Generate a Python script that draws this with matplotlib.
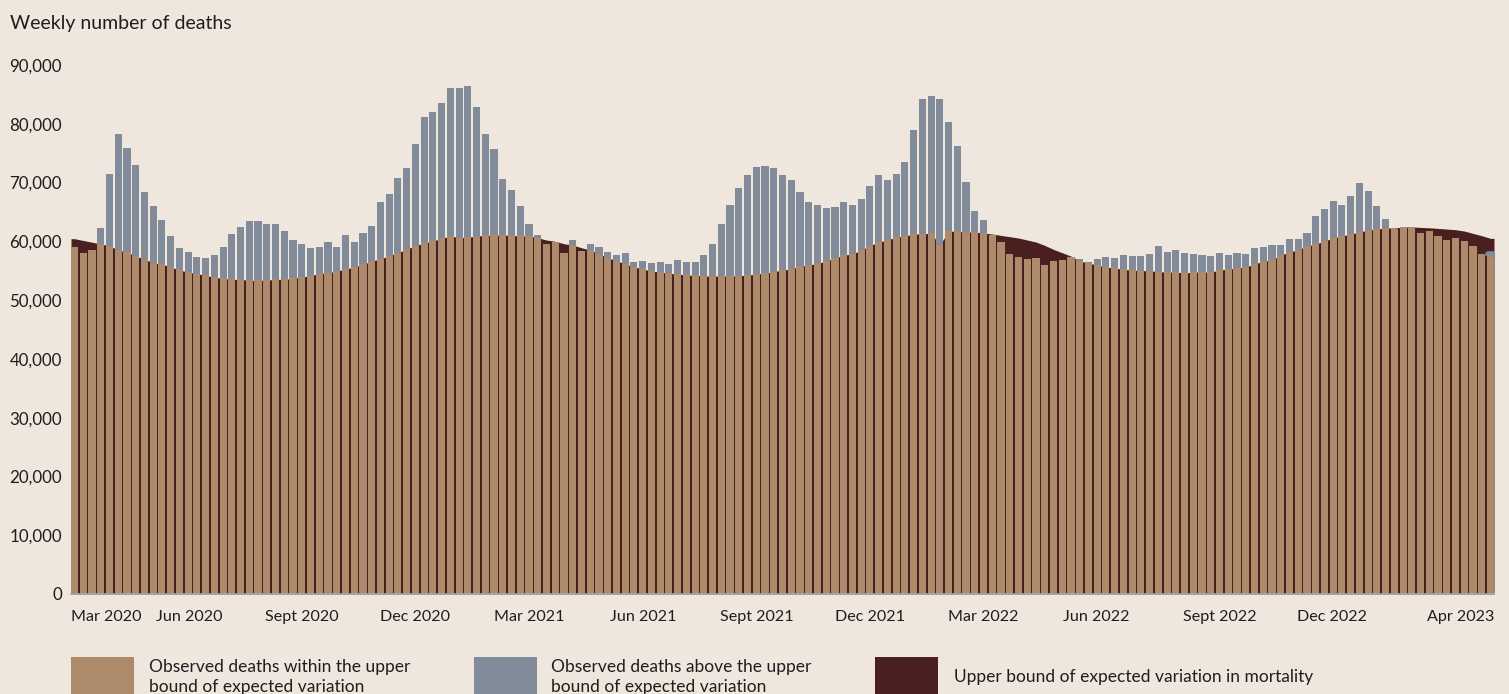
import matplotlib
matplotlib.use("Agg")
import matplotlib.pyplot as plt
import numpy as np
from matplotlib.patches import Rectangle

plt.rcParams['font.family'] = ['Lato', 'DejaVu Sans']

# weekly observed deaths (week index 0 = early Mar 2020)
observed = [
    59030, 58000, 58520, 62260, 71440, 78250, 75860, 72970, 68380, 66000,
    63620, 60900, 58850, 58170, 57320, 57150, 57660, 59030, 61230, 62420,
    63440, 63440, 62940, 62940, 61740, 60210, 59540, 58850, 59030, 59880,
    59030, 61060, 59880, 61410, 62600, 66680, 68040, 70760, 72460, 76550,
    81140, 81990, 83520, 86070, 86070, 86410, 82840, 78250, 75690, 70590,
    68720, 66000, 62940, 61070, 59540, 59950, 58000, 60220, 58340, 59540,
    59030, 58170, 57660, 58000, 56470, 56640, 56300, 56470, 56130, 56810,
    56470, 56470, 57660, 59540, 62940, 66170, 69060, 71270, 72630, 72800,
    72460, 71270, 70420, 68380, 66680, 66170, 65660, 65830, 66680, 66170,
    67190, 69400, 71270, 70420, 71440, 73480, 78930, 84200, 84710, 84200,
    80290, 76210, 70080, 65150, 63620, 61070, 59880, 57830, 57320, 56980,
    57150, 55960, 56640, 56810, 57320, 56980, 56470, 56980, 57320, 57150,
    57660, 57490, 57490, 57830, 59200, 58170, 58510, 58000, 57830, 57660,
    57490, 58000, 57660, 58000, 57830, 58850, 59030, 59370, 59370, 60390,
    60390, 61410, 64300, 65490, 66850, 66170, 67700, 69910, 68550, 66000,
    63790, 62140, 62430, 62430, 61410, 61750, 60900, 60220, 60560, 60050,
    59200, 57830, 57830,
]

# upper bound of expected variation in mortality
upper_bound = [
    60450, 60150, 59850, 59540, 59250, 58510, 58170, 57490, 56980, 56300,
    56130, 55620, 55110, 54770, 54490, 54210, 53870, 53700, 53530, 53530,
    53360, 53360, 53400, 53530, 53530, 53700, 53920, 54150, 54490, 54660,
    54940, 55280, 55620, 56080, 56640, 56980, 57550, 58060, 58680, 59250,
    59700, 60050, 60500, 60900, 60610, 60670, 60900, 61010, 61070, 61070,
    61010, 60900, 60900, 60610, 60220, 60000, 59590, 59370, 58910, 58510,
    57890, 57210, 56700, 56160, 55650, 55280, 54940, 54770, 54550, 54430,
    54260, 54210, 54090, 54090, 54090, 54090, 54150, 54260, 54430, 54600,
    54830, 55110, 55280, 55790, 55960, 56250, 56640, 57150, 57660, 57830,
    58510, 59250, 59880, 60220, 60730, 60900, 61240, 61240, 61410, 59370,
    61750, 61690, 61580, 61580, 61410, 61240, 61010, 60790, 60560, 60220,
    59880, 59310, 58630, 58060, 57490, 56640, 56300, 55960, 55620, 55450,
    55230, 55110, 55000, 55000, 54830, 54770, 54770, 54600, 54770, 54770,
    54770, 55110, 55280, 55450, 55620, 56130, 56640, 56810, 57660, 58170,
    58570, 59200, 59540, 60050, 60560, 60900, 61240, 61580, 61920, 62090,
    62260, 62260, 62430, 62430, 62370, 62300, 62200, 62090, 61980, 61750,
    61350, 60960, 60500,
]

x_tick_labels = ["Mar 2020", "Jun 2020", "Sept 2020", "Dec 2020", "Mar 2021",
                 "Jun 2021", "Sept 2021", "Dec 2021", "Mar 2022", "Jun 2022",
                 "Sept 2022", "Dec 2022", "Apr 2023"]
x_tick_pos = [3.6, 13.1, 26.0, 39.0, 52.0, 65.1, 78.1, 91.0, 104.0, 116.9,
              131.0, 143.9, 158.6]
y_ticks = [0, 10000, 20000, 30000, 40000, 50000, 60000, 70000, 80000, 90000]

BG = '#EFE6DE'
TAN = '#AD8A6A'
GRAY = '#818B9A'
DARK = '#4A1F20'
TXT = '#1E1E1E'

obs = np.array(observed, dtype=float)
ub = np.array(upper_bound, dtype=float)
idx = np.arange(len(obs))
within = np.minimum(obs, ub)
above = np.clip(obs - ub, 0, None)

W, H = 1509, 694
fig = plt.figure(figsize=(W / 100, H / 100), dpi=100, facecolor=BG)
ax = fig.add_axes([71 / W, (H - 594) / H, (1494 - 71) / W, (594 - 65) / H])
ax.set_facecolor(BG)

n = len(obs)
xf = np.concatenate([[-0.4], idx, [n - 1 + 0.4]])
yf = np.concatenate([[ub[0]], ub, [ub[-1]]])
ax.fill_between(xf, 0, yf, color=DARK, lw=0, zorder=1)

bw = 0.82
ax.bar(idx, within, width=bw, color=TAN, lw=0, zorder=2)
ax.bar(idx, above, bottom=ub, width=bw, color=GRAY, lw=0, zorder=2)

# highlight marker on last week
ax.plot([n - 1 - 0.3, n - 1 + 0.3], [obs[-1], obs[-1]], color=GRAY, lw=4,
        solid_capstyle='round', zorder=3)

ax.set_xlim(-0.4, n - 1 + 0.4)
ax.set_ylim(0, 90000)
ax.set_yticks(y_ticks)
ax.set_yticklabels([f"{v:,}" for v in y_ticks])
ax.set_xticks(x_tick_pos)
ax.set_xticklabels(x_tick_labels)
ax.tick_params(axis='both', length=0, colors=TXT)
ax.tick_params(axis='y', pad=6.5, labelsize=12.2)
ax.tick_params(axis='x', pad=11.5, labelsize=11.6)
for s in ['top', 'right', 'left']:
    ax.spines[s].set_visible(False)
ax.spines['bottom'].set_color('#A8A8A8')
ax.spines['bottom'].set_linewidth(1.2)
ax.spines['bottom'].set_zorder(4)

fig.text(10 / W, 1 - 23 / H, "Weekly number of deaths", fontsize=14.0,
         color=TXT, ha='left', va='center')

# legend
leg = [
    (71, TAN, 149, "Observed deaths within the upper\nbound of expected variation"),
    (474, GRAY, 551, "Observed deaths above the upper\nbound of expected variation"),
    (875, DARK, 954, "Upper bound of expected variation in mortality"),
]
for px, col, tx, label in leg:
    fig.patches.append(Rectangle((px / W, 0), 63 / W, (H - 657) / H,
                                 transform=fig.transFigure, color=col, lw=0))
    fig.text(tx / W, 1 - 677 / H, label, fontsize=12.5, color=TXT, ha='left',
             va='center', linespacing=1.3)

fig.savefig("out.png", dpi=100, facecolor=BG)
